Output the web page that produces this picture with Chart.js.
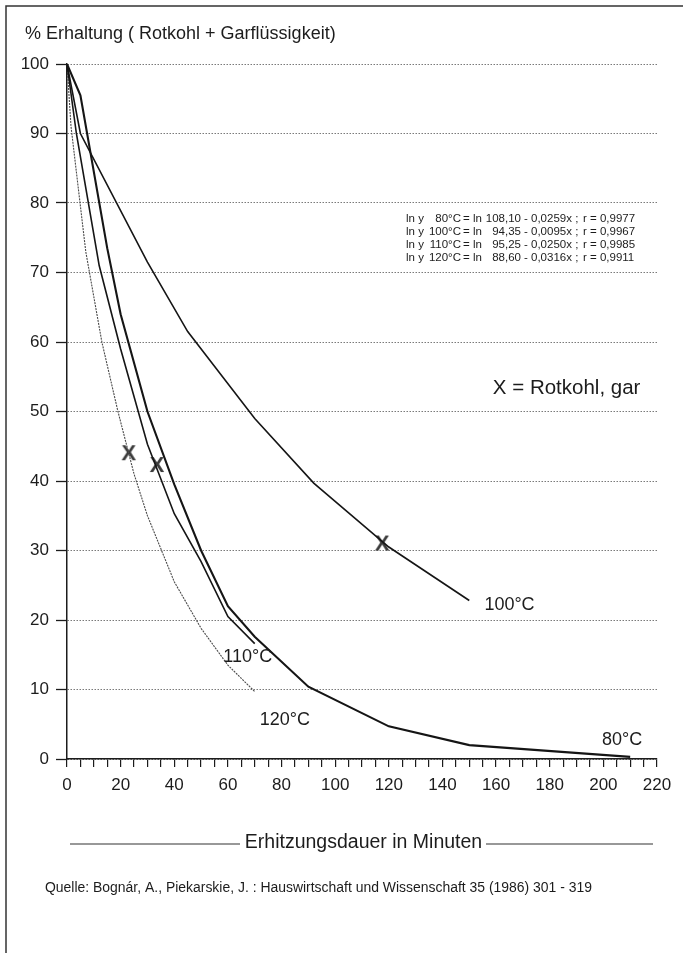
<!DOCTYPE html>
<html><head><meta charset="utf-8">
<script src="https://cdn.jsdelivr.net/npm/chart.js@4.4.1/dist/chart.umd.min.js"></script>
<style>html,body{margin:0;padding:0;background:#fff}#wrap{width:683px;height:953px;position:relative}</style>
</head><body><div id="wrap"><canvas id="c" width="683" height="953"></canvas></div>
<script>
// ---- text ----
const yAxisTitle = '% Erhaltung ( Rotkohl + Garflüssigkeit)';
const xAxisTitle = 'Erhitzungsdauer in Minuten';
const sourceText = 'Quelle: Bognár, A., Piekarskie, J. : Hauswirtschaft und Wissenschaft 35 (1986) 301 - 319';
const seriesLabels = ['80°C', '100°C', '110°C', '120°C'];
const markerGlyph = 'X';
const markerLegend = 'X = Rotkohl, gar';

// ---- tick labels ----
const xTickLabels = [0, 20, 40, 60, 80, 100, 120, 140, 160, 180, 200, 220];
const yTickLabels = [0, 10, 20, 30, 40, 50, 60, 70, 80, 90, 100];

// ---- series values (minutes, % retention) ----
const time80 = [0, 5, 15, 20, 30, 40, 50, 60, 70, 90, 120, 150, 210];
const ret80  = [100, 95.5, 73.5, 64, 50, 39.5, 30, 22, 17.6, 10.4, 4.7, 2.0, 0.3];
const time100 = [0, 5, 30, 45, 70, 92, 120, 150];
const ret100  = [100, 90, 71.5, 61.5, 49, 39.7, 30.5, 22.8];
const time110 = [0, 3.5, 12, 20, 30, 40, 50, 60, 70];
const ret110  = [100, 90, 71, 59, 45.3, 35.3, 28.4, 20.5, 16.6];
const time120 = [0, 1.5, 7, 13, 19, 25, 30, 40, 50, 60, 70];
const ret120  = [100, 91, 73, 60, 50, 41, 35, 25.5, 18.8, 13.5, 9.7];

// ---- "Rotkohl, gar" markers ----
const markerTimes  = [23, 33.5, 117.5];
const markerValues = [44, 42.3, 31];

// ---- regression equations ----
const eqTemps = ['80°C', '100°C', '110°C', '120°C'];
const eqIntercepts = ['108,10', '94,35', '95,25', '88,60'];
const eqSlopes = ['0,0259x', '0,0095x', '0,0250x', '0,0316x'];
const eqR = ['0,9977', '0,9967', '0,9985', '0,9911'];

const FONT = '"Liberation Sans", Arial, Helvetica, sans-serif';
const INK = '#1c1c1c';

function pts(xs, ys) { return xs.map((x, i) => ({x: x, y: ys[i]})); }

// marker glyph as canvas point style
const mk = document.createElement('canvas');
mk.width = 26; mk.height = 26;
(function(){
  const g = mk.getContext('2d');
  g.font = 'bold 22px ' + FONT;
  g.fillStyle = '#3a3a3a';
  g.textAlign = 'center';
  g.textBaseline = 'middle';
  g.fillText(markerGlyph, 13, 14);
})();

const annot = {
  id: 'annot',
  beforeDraw(chart) {
    const ctx = chart.ctx;
    ctx.save();
    ctx.fillStyle = '#fff';
    ctx.fillRect(0, 0, chart.width, chart.height);
    ctx.restore();
  },
  afterDraw(chart, args, opts) {
    const ctx = chart.ctx;
    const xs = chart.scales.x, ys = chart.scales.y;
    ctx.save();
    // frame
    ctx.strokeStyle = '#333';
    ctx.lineWidth = 1.5;
    ctx.beginPath();
    ctx.moveTo(6, chart.height);
    ctx.lineTo(6, 6);
    ctx.lineTo(chart.width, 6);
    ctx.stroke();

    ctx.fillStyle = INK;
    ctx.textBaseline = 'middle';
    // y title
    ctx.font = '18px ' + FONT;
    ctx.textAlign = 'left';
    ctx.fillText(yAxisTitle, 25, 34);

    // series labels (anchored in data units)
    ctx.font = '18px ' + FONT;
    ctx.textAlign = 'center';
    opts.labelAnchors.forEach((a, i) => {
      ctx.fillText(seriesLabels[i], xs.getPixelForValue(a[0]), ys.getPixelForValue(a[1]));
    });
    // marker legend
    ctx.font = '20.5px ' + FONT;
    ctx.textAlign = 'left';
    ctx.fillText(markerLegend, xs.getPixelForValue(opts.legendAnchor[0]), ys.getPixelForValue(opts.legendAnchor[1]));

    // equations
    ctx.font = '11.5px ' + FONT;
    const eqY = [218.5, 231.5, 244.5, 257.5];
    for (let i = 0; i < 4; i++) {
      const y = eqY[i];
      ctx.textAlign = 'left';
      ctx.fillText('ln y', 406, y);
      ctx.textAlign = 'right';
      ctx.fillText(eqTemps[i], 461, y);
      ctx.textAlign = 'left';
      ctx.fillText('= ln', 463, y);
      ctx.textAlign = 'right';
      ctx.fillText(eqIntercepts[i], 521, y);
      ctx.textAlign = 'left';
      ctx.fillText('- ' + eqSlopes[i] + ' ;', 524, y);
      ctx.fillText('r = ' + eqR[i], 583, y);
    }

    // x title with rules
    ctx.font = '19.5px ' + FONT;
    ctx.textAlign = 'center';
    ctx.fillText(xAxisTitle, 363.5, 843);
    ctx.strokeStyle = '#333';
    ctx.lineWidth = 1.2;
    ctx.beginPath();
    ctx.moveTo(70, 844); ctx.lineTo(240, 844);
    ctx.moveTo(486, 844); ctx.lineTo(653, 844);
    ctx.stroke();

    // source
    ctx.font = '14px ' + FONT;
    ctx.textAlign = 'left';
    ctx.fillText(sourceText, 45, 888, 547);
    ctx.restore();
  }
};

const lineStyle = (color, w, dash) => ({
  showLine: true, borderColor: color, borderWidth: w, borderDash: dash || [],
  pointRadius: 0, tension: 0, fill: false
});

new Chart(document.getElementById('c'), {
  type: 'scatter',
  data: {
    datasets: [
      Object.assign({label: seriesLabels[0], data: pts(time80, ret80)}, lineStyle('#151515', 2.1)),
      Object.assign({label: seriesLabels[1], data: pts(time100, ret100)}, lineStyle('#151515', 1.6)),
      Object.assign({label: seriesLabels[2], data: pts(time110, ret110)}, lineStyle('#151515', 1.6)),
      Object.assign({label: seriesLabels[3], data: pts(time120, ret120)}, lineStyle('#4a4a4a', 1.1, [2, 1])),
      {label: markerLegend, data: pts(markerTimes, markerValues), showLine: false,
       pointStyle: mk, pointRadius: 8, pointHoverRadius: 8}
    ]
  },
  options: {
    responsive: false,
    animation: false,
    events: [],
    layout: {padding: {left: 0, right: 26, top: 64, bottom: 0}},
    plugins: {
      legend: {display: false},
      tooltip: {enabled: false},
      annot: {
        labelAnchors: [[207, 2.7], [165, 22.2], [67.4, 14.7], [81.2, 5.6]],
        legendAnchor: [158.8, 53.4]
      }
    },
    scales: {
      x: {
        type: 'linear', min: 0, max: 220,
        afterFit(s) { s.height = 194; },
        border: {display: true, color: INK, width: 1.5},
        grid: {drawOnChartArea: false, drawTicks: true, tickLength: 8, color: INK, tickColor: INK, lineWidth: 1.2},
        ticks: {
          stepSize: 5, autoSkip: false, maxRotation: 0, padding: 8,
          color: INK, font: {family: FONT, size: 17},
          callback: v => xTickLabels.includes(v) ? String(v) : ''
        }
      },
      y: {
        type: 'linear', min: 0, max: 100,
        afterFit(s) { s.width = 67; },
        border: {display: true, color: INK, width: 1.5, dash: [1.5, 1.5]},
        grid: {color: '#7a7a7a', lineWidth: 1, tickLength: 11, tickColor: INK, tickWidth: 1.3, tickBorderDash: []},
        ticks: {
          stepSize: 10, padding: 7, color: INK, font: {family: FONT, size: 17},
          callback: v => yTickLabels.includes(v) ? String(v) : ''
        }
      }
    }
  },
  plugins: [annot]
});
</script>
</body></html>
